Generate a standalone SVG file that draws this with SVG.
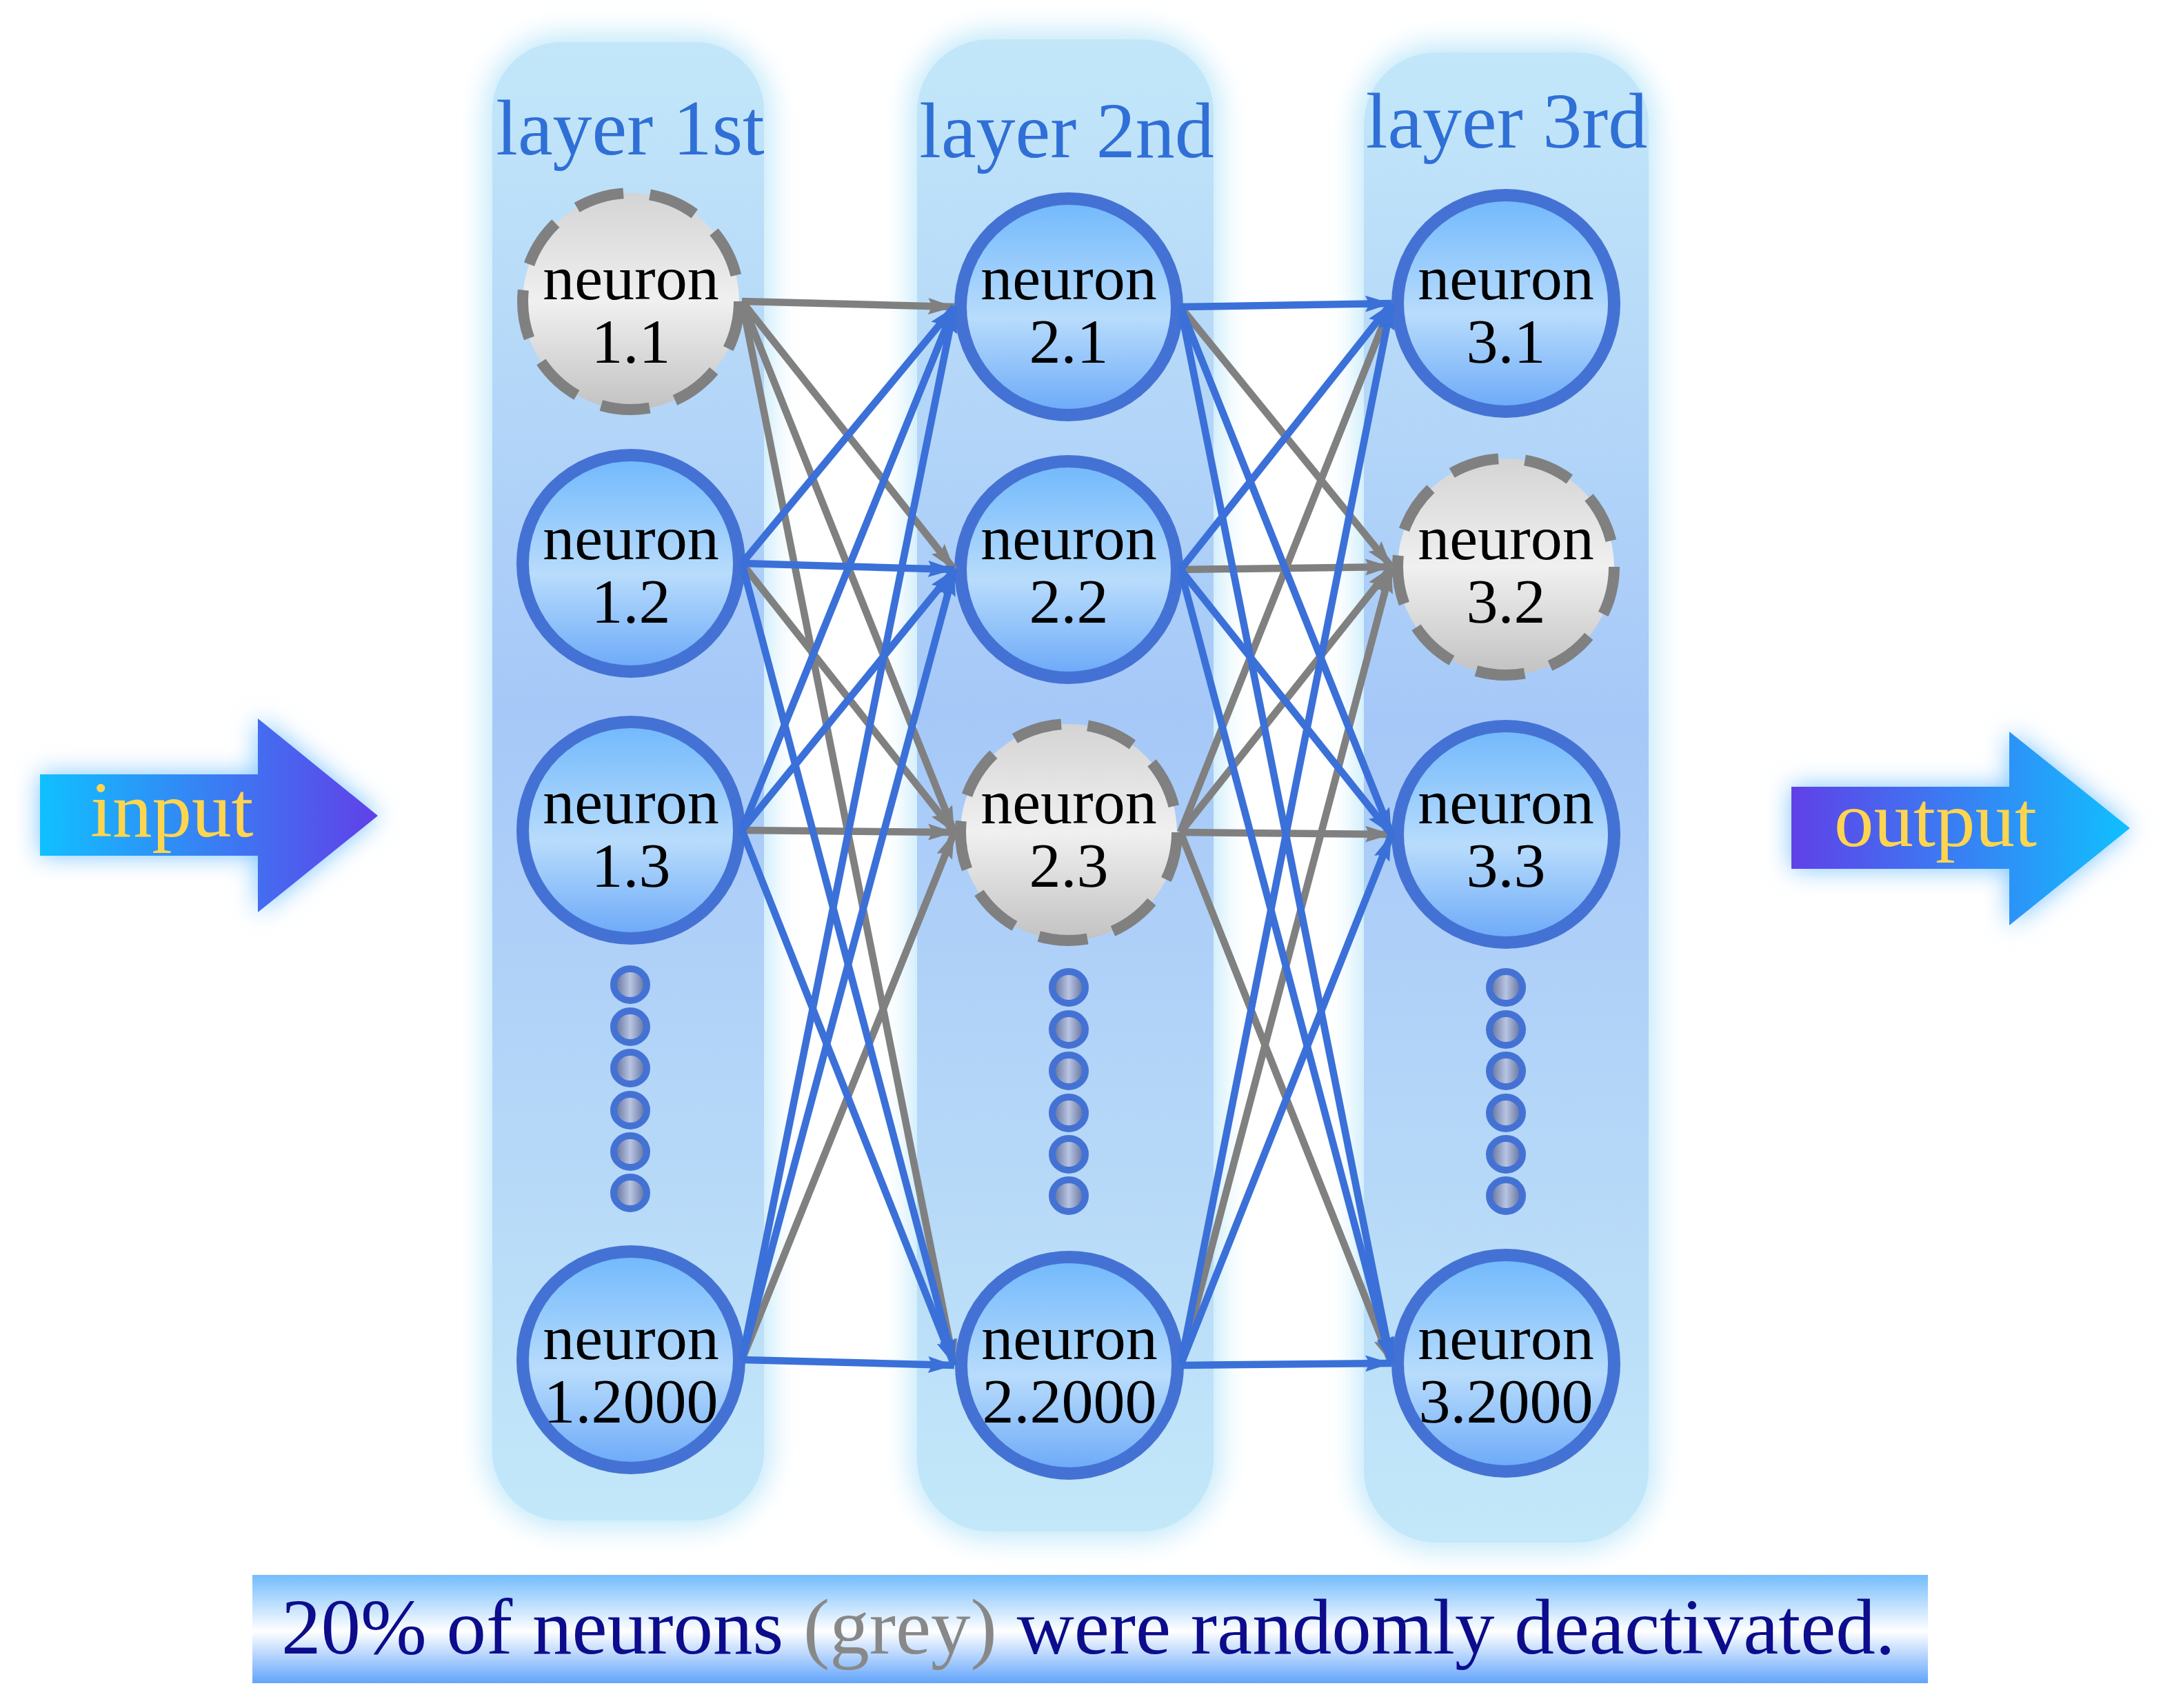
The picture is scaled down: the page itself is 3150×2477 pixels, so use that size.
<svg xmlns="http://www.w3.org/2000/svg" width="3150" height="2477" viewBox="0 0 3150 2477">
<style>
.lbl{font-family:"Liberation Serif","Times New Roman",serif;font-size:114px;fill:#2f6fd6;text-anchor:middle}
.nt{font-family:"Liberation Serif","Times New Roman",serif;font-size:92px;fill:#000;text-anchor:middle}
.io{font-family:"Liberation Serif","Times New Roman",serif;font-size:115px;fill:#ffd54f}
.cap{font-family:"Liberation Serif","Times New Roman",serif;font-size:115px;fill:#0c0c8c}
.on{fill:url(#blueNode);stroke:#4472d4;stroke-width:18}
.off{fill:url(#greyNode);stroke:#808080;stroke-width:16;stroke-dasharray:71 38.6}
.dot{fill:url(#dotGrad);stroke:#4472d4;stroke-width:10}
.eb{stroke:#3a70d8;stroke-width:10.5;fill:none;marker-end:url(#ab)}
.eg{stroke:#808080;stroke-width:10.5;fill:none;marker-end:url(#ag)}
.colglow{fill:#c6eafa;filter:url(#blur)}
</style>
<defs>
<filter id="blur" x="-30%" y="-30%" width="160%" height="160%"><feGaussianBlur stdDeviation="18"/></filter>
<filter id="glow" x="-30%" y="-50%" width="160%" height="200%"><feGaussianBlur stdDeviation="18"/></filter>
<linearGradient id="colGrad" x1="0" y1="0" x2="0" y2="1">
<stop offset="0" stop-color="#c3e7f9"/>
<stop offset="0.45" stop-color="#a6c8f8"/>
<stop offset="0.75" stop-color="#b6d8f8"/>
<stop offset="1" stop-color="#c3e8f9"/>
</linearGradient>
<linearGradient id="blueNode" x1="0" y1="0" x2="0" y2="1">
<stop offset="0" stop-color="#70b8fc"/>
<stop offset="0.55" stop-color="#b8dcfc"/>
<stop offset="1" stop-color="#6aa8f8"/>
</linearGradient>
<linearGradient id="greyNode" x1="0" y1="0" x2="0" y2="1">
<stop offset="0" stop-color="#d4d4d4"/>
<stop offset="0.5" stop-color="#f0f0f0"/>
<stop offset="1" stop-color="#c2c2c2"/>
</linearGradient>
<linearGradient id="dotGrad" x1="0" y1="0" x2="1" y2="0">
<stop offset="0" stop-color="#5a6a96"/>
<stop offset="0.5" stop-color="#b8c4e2"/>
<stop offset="1" stop-color="#5a6a96"/>
</linearGradient>
<linearGradient id="inGrad" x1="0" y1="0" x2="1" y2="0">
<stop offset="0" stop-color="#10c0ff"/>
<stop offset="1" stop-color="#6040e8"/>
</linearGradient>
<linearGradient id="outGrad" x1="0" y1="0" x2="1" y2="0">
<stop offset="0" stop-color="#6040e8"/>
<stop offset="1" stop-color="#10c0ff"/>
</linearGradient>
<linearGradient id="banGrad" x1="0" y1="0" x2="0" y2="1">
<stop offset="0" stop-color="#74bcfc"/>
<stop offset="0.52" stop-color="#ffffff"/>
<stop offset="1" stop-color="#62a4fc"/>
</linearGradient>
<marker id="ab" markerUnits="userSpaceOnUse" markerWidth="42" markerHeight="26" refX="38" refY="12" orient="auto">
<path d="M0,0 L38,12 L0,24 L6,12 z" fill="#3a70d8"/>
</marker>
<marker id="ag" markerUnits="userSpaceOnUse" markerWidth="42" markerHeight="26" refX="38" refY="12" orient="auto">
<path d="M0,0 L38,12 L0,24 L6,12 z" fill="#808080"/>
</marker>
</defs>
<rect width="3150" height="2477" fill="#ffffff"/>

<g id="columns">
<rect class="colglow" x="702" y="48" width="418" height="2170" rx="115"/>
<rect class="colglow" x="1318" y="44" width="454" height="2190" rx="120"/>
<rect class="colglow" x="1966" y="62" width="437" height="2188" rx="120"/>
<rect x="714" y="61" width="394" height="2144" rx="100" fill="url(#colGrad)"/>
<rect x="1330" y="57" width="430" height="2164" rx="105" fill="url(#colGrad)"/>
<rect x="1978" y="76" width="413" height="2161" rx="105" fill="url(#colGrad)"/>
<text class="lbl" x="914" y="224">layer 1st</text>
<text class="lbl" x="1547" y="228">layer 2nd</text>
<text class="lbl" x="2185" y="214">layer 3rd</text>
</g>

<g id="input">
<polygon points="58,1123 374,1123 374,1042 548,1183 374,1323 374,1241 58,1241" fill="#7cc4ff" filter="url(#glow)"/>
<polygon points="58,1123 374,1123 374,1042 548,1183 374,1323 374,1241 58,1241" fill="url(#inGrad)"/>
<text class="io" x="131" y="1213">input</text>
</g>

<g id="output">
<polygon points="2598,1141 2914,1141 2914,1061 3089,1201 2914,1342 2914,1260 2598,1260" fill="#7cc4ff" filter="url(#glow)"/>
<polygon points="2598,1141 2914,1141 2914,1061 3089,1201 2914,1342 2914,1260 2598,1260" fill="url(#outGrad)"/>
<text class="io" x="2660" y="1227">output</text>
</g>

<g id="n11"><circle class="off" cx="915" cy="437" r="157"/><text class="nt" x="915" y="434">neuron</text><text class="nt" x="915" y="526">1.1</text></g>
<g id="n12"><circle class="on" cx="915" cy="817" r="157"/><text class="nt" x="915" y="811">neuron</text><text class="nt" x="915" y="903">1.2</text></g>
<g id="n13"><circle class="on" cx="915" cy="1204" r="157"/><text class="nt" x="915" y="1194">neuron</text><text class="nt" x="915" y="1286">1.3</text></g>
<g id="n1k"><circle class="on" cx="915" cy="1972" r="157"/><text class="nt" x="915" y="1971">neuron</text><text class="nt" x="915" y="2063">1.2000</text></g>

<g id="n21"><circle class="on" cx="1550" cy="445" r="157"/><text class="nt" x="1550" y="434">neuron</text><text class="nt" x="1550" y="526">2.1</text></g>
<g id="n22"><circle class="on" cx="1550" cy="826" r="157"/><text class="nt" x="1550" y="811">neuron</text><text class="nt" x="1550" y="903">2.2</text></g>
<g id="n23"><circle class="off" cx="1550" cy="1207" r="157"/><text class="nt" x="1550" y="1194">neuron</text><text class="nt" x="1550" y="1286">2.3</text></g>
<g id="n2k"><circle class="on" cx="1551" cy="1980" r="157"/><text class="nt" x="1551" y="1971">neuron</text><text class="nt" x="1551" y="2063">2.2000</text></g>

<g id="n31"><circle class="on" cx="2184" cy="440" r="157"/><text class="nt" x="2184" y="434">neuron</text><text class="nt" x="2184" y="526">3.1</text></g>
<g id="n32"><circle class="off" cx="2184" cy="822" r="157"/><text class="nt" x="2184" y="811">neuron</text><text class="nt" x="2184" y="903">3.2</text></g>
<g id="n33"><circle class="on" cx="2184" cy="1210" r="157"/><text class="nt" x="2184" y="1194">neuron</text><text class="nt" x="2184" y="1286">3.3</text></g>
<g id="n3k"><circle class="on" cx="2184" cy="1977" r="157"/><text class="nt" x="2184" y="1971">neuron</text><text class="nt" x="2184" y="2063">3.2000</text></g>

<g id="dots">
<ellipse class="dot" cx="914" cy="1428" rx="24" ry="23"/>
<ellipse class="dot" cx="914" cy="1489" rx="24" ry="23"/>
<ellipse class="dot" cx="914" cy="1549" rx="24" ry="23"/>
<ellipse class="dot" cx="914" cy="1610" rx="24" ry="23"/>
<ellipse class="dot" cx="914" cy="1670" rx="24" ry="23"/>
<ellipse class="dot" cx="914" cy="1730" rx="24" ry="23"/>
<ellipse class="dot" cx="1550" cy="1432" rx="24" ry="23"/>
<ellipse class="dot" cx="1550" cy="1493" rx="24" ry="23"/>
<ellipse class="dot" cx="1550" cy="1553" rx="24" ry="23"/>
<ellipse class="dot" cx="1550" cy="1614" rx="24" ry="23"/>
<ellipse class="dot" cx="1550" cy="1674" rx="24" ry="23"/>
<ellipse class="dot" cx="1550" cy="1734" rx="24" ry="23"/>
<ellipse class="dot" cx="2184" cy="1432" rx="24" ry="23"/>
<ellipse class="dot" cx="2184" cy="1493" rx="24" ry="23"/>
<ellipse class="dot" cx="2184" cy="1553" rx="24" ry="23"/>
<ellipse class="dot" cx="2184" cy="1614" rx="24" ry="23"/>
<ellipse class="dot" cx="2184" cy="1674" rx="24" ry="23"/>
<ellipse class="dot" cx="2184" cy="1734" rx="24" ry="23"/>
</g>

<g id="connectors">
<line class="eg" x1="1076" y1="437" x2="1384" y2="445"/>
<line class="eg" x1="1076" y1="437" x2="1384" y2="826"/>
<line class="eg" x1="1076" y1="437" x2="1384" y2="1207"/>
<line class="eg" x1="1076" y1="437" x2="1384" y2="1980"/>
<line class="eg" x1="1076" y1="817" x2="1384" y2="1207"/>
<line class="eg" x1="1076" y1="1204" x2="1384" y2="1207"/>
<line class="eg" x1="1076" y1="1972" x2="1384" y2="1207"/>
<line class="eb" x1="1076" y1="817" x2="1384" y2="445"/>
<line class="eb" x1="1076" y1="817" x2="1384" y2="826"/>
<line class="eb" x1="1076" y1="817" x2="1384" y2="1980"/>
<line class="eb" x1="1076" y1="1204" x2="1384" y2="445"/>
<line class="eb" x1="1076" y1="1204" x2="1384" y2="826"/>
<line class="eb" x1="1076" y1="1204" x2="1384" y2="1980"/>
<line class="eb" x1="1076" y1="1972" x2="1384" y2="445"/>
<line class="eb" x1="1076" y1="1972" x2="1384" y2="826"/>
<line class="eb" x1="1076" y1="1972" x2="1384" y2="1980"/>

<line class="eg" x1="1712" y1="445" x2="2018" y2="822"/>
<line class="eg" x1="1712" y1="826" x2="2018" y2="822"/>
<line class="eg" x1="1712" y1="1207" x2="2018" y2="440"/>
<line class="eg" x1="1712" y1="1207" x2="2018" y2="822"/>
<line class="eg" x1="1712" y1="1207" x2="2018" y2="1210"/>
<line class="eg" x1="1712" y1="1207" x2="2018" y2="1977"/>
<line class="eg" x1="1712" y1="1980" x2="2018" y2="822"/>
<line class="eb" x1="1712" y1="445" x2="2018" y2="440"/>
<line class="eb" x1="1712" y1="445" x2="2018" y2="1210"/>
<line class="eb" x1="1712" y1="445" x2="2018" y2="1977"/>
<line class="eb" x1="1712" y1="826" x2="2018" y2="440"/>
<line class="eb" x1="1712" y1="826" x2="2018" y2="1210"/>
<line class="eb" x1="1712" y1="826" x2="2018" y2="1977"/>
<line class="eb" x1="1712" y1="1980" x2="2018" y2="440"/>
<line class="eb" x1="1712" y1="1980" x2="2018" y2="1210"/>
<line class="eb" x1="1712" y1="1980" x2="2018" y2="1977"/>
</g>

<g id="caption">
<rect x="366" y="2284" width="2430" height="157" fill="url(#banGrad)"/>
<text class="cap" x="408" y="2398">20% of neurons <tspan fill="#888888">(grey)</tspan> were randomly deactivated.</text>
</g>
</svg>
